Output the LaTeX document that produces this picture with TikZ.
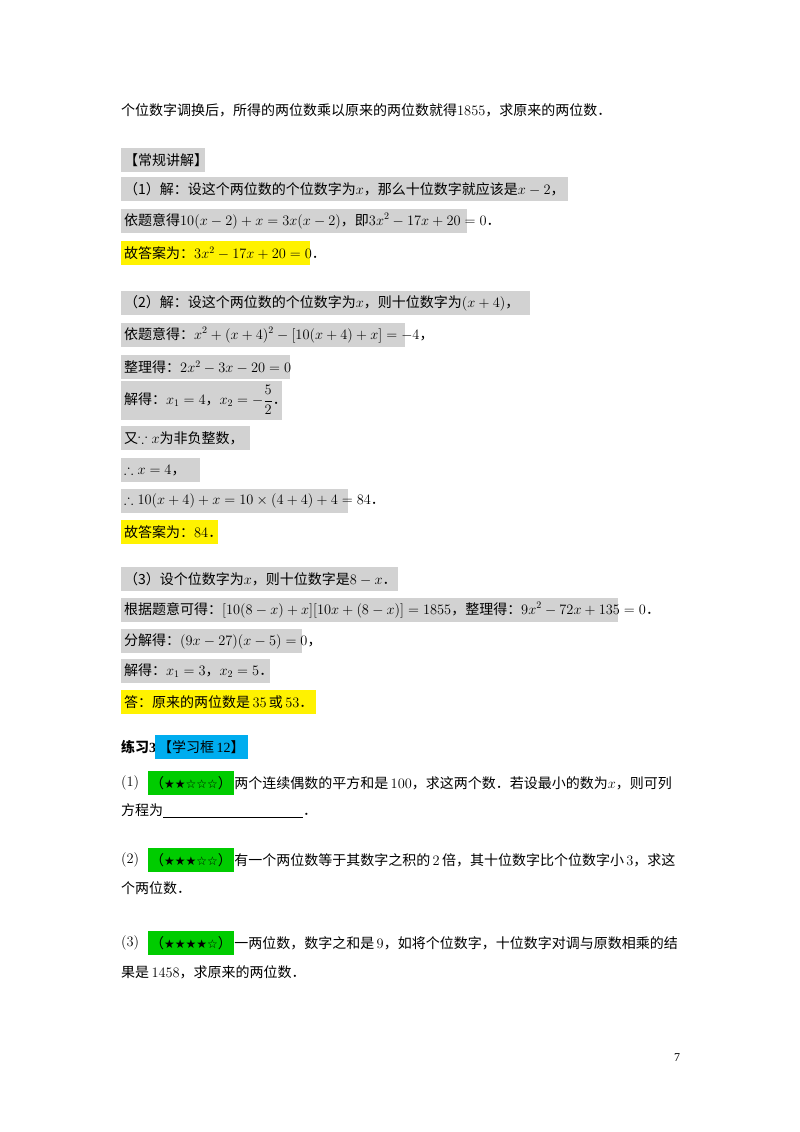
\documentclass[tikz,border=0pt]{standalone}
\usepackage{amsmath,amssymb}
\usepackage{fontspec}
\setmainfont{Liberation Serif}
\newfontfamily\cjk{Noto Sans CJK SC}
\newfontfamily\sym{DejaVu Sans}
\begin{document}
\begin{tikzpicture}[x=1pt,y=-1pt,
 every node/.style={font=\fontsize{14}{16}\selectfont\cjk, inner sep=0pt},
 gbox/.style={fill=gray!35, anchor=west, minimum height=24, inner xsep=3pt, align=left},
 ybox/.style={fill=yellow, anchor=west, minimum height=24, inner xsep=3pt, align=left},
 plain/.style={anchor=west, align=left}]
\useasboundingbox (0,0) rectangle (800,1132);
\newcommand{\m}[1]{{\rmfamily$#1$}}
\newcommand{\bx}[2]{\makebox[#1pt][l]{#2}}
\node[plain] (l0) at (121,110) {个位数字调换后，所得的两位数乘以原来的两位数就得\m{1855}，求原来的两位数．};
\node[gbox] (h) at (121,160) {\bx{78}{【常规讲解】}};
\node[gbox] (a1) at (121,189) {\bx{441}{（1）解：设这个两位数的个位数字为\m{x}，那么十位数字就应该是\m{x-2}，}};
\node[gbox] (a2) at (121,221) {\bx{340}{依题意得\m{10(x-2)+x=3x(x-2)}，即\m{3x^2-17x+20=0}．}};
\node[ybox] (a3) at (121,253) {\bx{183}{故答案为：\m{3x^2-17x+20=0}．}};
\node[gbox] (b1) at (121,303) {\bx{403}{（2）解：设这个两位数的个位数字为\m{x}，则十位数字为\m{(x+4)}，}};
\node[gbox] (b2) at (121,335) {\bx{278}{依题意得：\m{x^2+(x+4)^2-[10(x+4)+x]=-4}，}};
\node[gbox] (b3) at (121,367) {\bx{163}{整理得：\m{2x^2-3x-20=0}}};
\node[gbox, minimum height=39] (b4) at (121,400) {\bx{155}{解得：\m{x_1=4}，\m{x_2=-\dfrac{5}{2}}．}};
\node[gbox] (b5) at (121,438) {\bx{123}{又\m{\because x}为非负整数，}};
\node[gbox] (b6) at (121,470) {\bx{73}{\m{\therefore x=4}，}};
\node[gbox] (b7) at (121,501) {\bx{221}{\m{\therefore 10(x+4)+x=10\times(4+4)+4=84}．}};
\node[ybox] (b8) at (121,532) {\bx{91}{故答案为：\m{84}．}};
\node[gbox] (c1) at (121,579) {\bx{271}{（3）设个位数字为\m{x}，则十位数字是\m{8-x}．}};
\node[gbox] (c2) at (121,610) {\bx{491}{根据题意可得：\m{[10(8-x)+x][10x+(8-x)]=1855}，整理得：\m{9x^2-72x+135=0}．}};
\node[gbox] (c3) at (121,641) {\bx{175}{分解得：\m{(9x-27)(x-5)=0}，}};
\node[gbox] (c4) at (121,671) {\bx{143}{解得：\m{x_1=3}，\m{x_2=5}．}};
\node[ybox] (c5) at (121,702) {\bx{189}{答：原来的两位数是\,\m{35}\,或\,\m{53}．}};
\node[plain, font=\fontsize{14}{16}\selectfont\cjk\bfseries] (p) at (121,747) {练习{\rmfamily\bfseries 3:}};
\node[anchor=west, fill=cyan, minimum height=24, inner xsep=3pt] (k) at (155,747) {【学习框\,{\rmfamily 12}】};
\tikzset{star/.style={anchor=west, fill=green!80!black, minimum height=24, inner xsep=2pt}}
\node[plain] (q1n) at (121,783) {\m{(1)}};
\node[star] (q1s) at (148,783) {（{\sym\fontsize{12}{14}\selectfont ★★☆☆☆}）};
\node[plain] (q1t) at (q1s.east) {两个连续偶数的平方和是\,\m{100}，求这两个数．若设最小的数为\m{x}，则可列};
\node[plain] (q1b) at (121,811) {方程为\underline{\hspace{140pt}}．};
\node[plain] (q2n) at (121,860) {\m{(2)}};
\node[star] (q2s) at (148,860) {（{\sym\fontsize{12}{14}\selectfont ★★★☆☆}）};
\node[plain] (q2t) at (q2s.east) {有一个两位数等于其数字之积的\,\m{2}\,倍，其十位数字比个位数字小\,\m{3}，求这};
\node[plain] (q2b) at (121,888) {个两位数．};
\node[plain] (q3n) at (121,943) {\m{(3)}};
\node[star] (q3s) at (148,943) {（{\sym\fontsize{12}{14}\selectfont ★★★★☆}）};
\node[plain] (q3t) at (q3s.east) {一两位数，数字之和是\,\m{9}，如将个位数字，十位数字对调与原数相乘的结};
\node[plain] (q3b) at (121,972) {果是\,\m{1458}，求原来的两位数．};
\node[font=\fontsize{12}{14}\selectfont\rmfamily] (pg) at (677,1058) {7};
\end{tikzpicture}
\end{document}
